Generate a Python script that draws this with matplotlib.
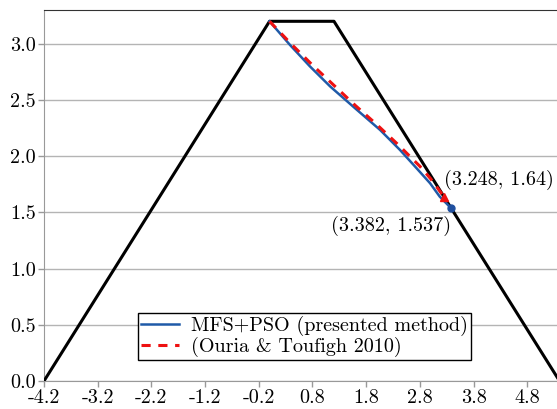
import numpy as np
import matplotlib
matplotlib.use("Agg")
from matplotlib import pyplot as plt

# section outline (trapezoid)
outline_x = [-4.2, 0.0, 1.2, 5.4]
outline_y = [0.0, 3.2, 3.2, 0.0]

# MFS+PSO result
mfs_x = [0.0, 0.38, 0.75, 1.13, 1.56, 2.06, 2.43, 2.74, 2.99, 3.17, 3.382]
mfs_y = [3.2, 2.99, 2.80, 2.62, 2.44, 2.233, 2.055, 1.892, 1.759, 1.64, 1.537]

# Ouria & Toufigh 2010
ouria_x = [0.0, 0.4, 0.8, 1.2, 1.6, 2.0, 2.4, 2.8, 3.0, 3.248]
ouria_y = [3.2, 3.0, 2.81, 2.63, 2.45, 2.28, 2.10, 1.91, 1.80, 1.64]

xticks = [-4.2, -3.2, -2.2, -1.2, -0.2, 0.8, 1.8, 2.8, 3.8, 4.8]
yticks = [0.0, 0.5, 1.0, 1.5, 2.0, 2.5, 3.0]

plt.rcParams['font.family'] = ['cmr10', 'DejaVu Serif']
plt.rcParams['font.size'] = 14.5

fig = plt.figure(figsize=(5.57, 4.09), dpi=100)
ax = fig.add_axes([0.079, 0.0685, 0.9255, 0.9069])

ax.plot(outline_x, outline_y, color='black', lw=2.2, zorder=3)
ax.plot(mfs_x, mfs_y, color='#1f5aa8', lw=1.8, zorder=4,
        label='MFS+PSO (presented method)')
ax.plot(ouria_x, ouria_y, color='#ee1111', lw=2.2, ls=(0, (3, 2.5)), zorder=5,
        label='(Ouria & Toufigh 2010)')
ax.plot(mfs_x[-1], mfs_y[-1], 'o', color='#1f4f9f', ms=5, zorder=6)
ax.plot(ouria_x[-1], ouria_y[-1], '^', color='#ee1111', ms=6, zorder=6)

ax.text(3.25, 1.79, '(3.248, 1.64)', ha='left', va='center')
ax.text(3.38, 1.38, '(3.382, 1.537)', ha='right', va='center')

ax.set_xlim(-4.2, 5.4)
ax.set_ylim(0, 3.3)
ax.set_xticks(xticks)
ax.set_xticklabels(['%.1f' % v for v in xticks])
ax.set_yticks(yticks)
ax.set_yticklabels(['%.1f' % v for v in yticks])

ax.grid(axis='y', color='#b4b4b4', lw=1.0)
ax.set_axisbelow(True)
ax.spines['right'].set_visible(False)
ax.spines['left'].set_color('#999999')
ax.spines['bottom'].set_color('#999999')
ax.spines['top'].set_color('#333333')
ax.tick_params(colors='#999999', labelcolor='black', length=4, width=1, pad=2)

leg = ax.legend(loc='lower left', bbox_to_anchor=(0.182, 0.057), fancybox=False,
                framealpha=1, edgecolor='black', handlelength=1.9,
                borderpad=0.15, labelspacing=0.05, handletextpad=0.6,
                borderaxespad=0)
leg.get_frame().set_linewidth(1.0)

fig.savefig('out.png', dpi=100)
